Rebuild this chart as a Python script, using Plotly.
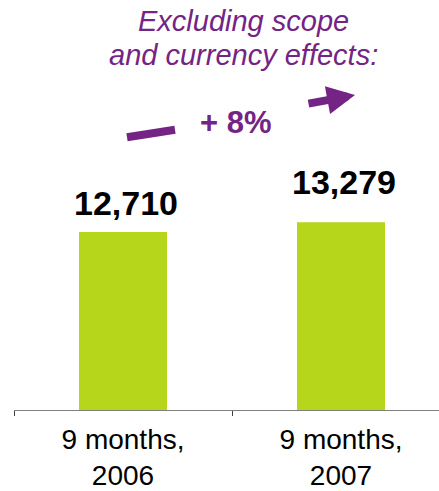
import plotly.graph_objects as go

# Revenue over the first nine months of each year
categories = ["9 months,<br>2006", "9 months,<br>2007"]
revenue = [12710, 13279]
growth_label = "+ 8%"
note_lines = ["Excluding scope", "and currency effects:"]

# Layout geometry (pixels)
W, H = 439, 491
ML, MR, MT, MB = 14, 0, 90, 79
PLOT_W = W - ML - MR
PLOT_H = H - MT - MB
CAT_PX = 218            # width of one category slot
Y_MIN = 2500
Y_PER_PX = 57.04

PURPLE = "#742484"
GREEN = "#b6d61b"
FONT = "Arial, Liberation Sans, sans-serif"


def paper_x(px):
    return (px - ML) / PLOT_W


def paper_y(py):
    return (H - MB - py) / PLOT_H


fig = go.Figure(
    go.Bar(
        x=categories,
        y=revenue,
        marker=dict(color=GREEN, line=dict(width=0)),
        hoverinfo="skip",
    )
)

# Value labels above the bars
label_lift = [29, 40]
for cat, val, lift in zip(categories, revenue, label_lift):
    fig.add_annotation(
        x=cat, y=val, text=f"<b>{val:,}</b>", showarrow=False,
        xanchor="center", yanchor="middle", xshift=3, yshift=lift,
        font=dict(family=FONT, size=34, color="black"),
    )

# Heading note
for line, cy in zip(note_lines, [21, 55]):
    fig.add_annotation(
        xref="paper", yref="paper", x=paper_x(244), y=paper_y(cy),
        text=f"<i>{line}</i>", showarrow=False,
        xanchor="center", yanchor="middle",
        font=dict(family=FONT, size=29, color=PURPLE),
    )

# Growth figure
fig.add_annotation(
    xref="paper", yref="paper", x=paper_x(236), y=paper_y(123),
    text=f"<b>{growth_label}</b>", showarrow=False,
    xanchor="center", yanchor="middle",
    font=dict(family=FONT, size=31, color=PURPLE),
)

# Trend arrow: plain tail segment, then the arrow with its head
fig.add_shape(
    type="line", xref="paper", yref="paper",
    x0=paper_x(127), y0=paper_y(137.5), x1=paper_x(175), y1=paper_y(130),
    line=dict(color=PURPLE, width=8),
)
fig.add_annotation(
    xref="paper", yref="paper", x=paper_x(355), y=paper_y(95),
    text="", showarrow=True, axref="pixel", ayref="pixel",
    ax=-48, ay=9, arrowhead=2, arrowsize=0.7, arrowwidth=8,
    arrowcolor=PURPLE, standoff=0, startstandoff=0,
)

fig.update_layout(
    width=W, height=H,
    margin=dict(l=ML, r=MR, t=MT, b=MB, pad=0),
    paper_bgcolor="white", plot_bgcolor="white",
    bargap=1 - 88 / CAT_PX,
    showlegend=False,
    xaxis=dict(
        type="category",
        range=[-0.5, -0.5 + PLOT_W / CAT_PX],
        showline=True, linecolor="#808080", linewidth=1,
        ticks="outside", tickson="boundaries", ticklen=5,
        tickcolor="#404040", tickwidth=1,
        tickfont=dict(family=FONT, size=28, color="black"),
        ticklabelstandoff=4,
        showgrid=False, zeroline=False, fixedrange=True,
    ),
    yaxis=dict(
        range=[Y_MIN, Y_MIN + PLOT_H * Y_PER_PX],
        visible=False, showgrid=False, zeroline=False, fixedrange=True,
    ),
)

fig.write_html("out.html", config={"displayModeBar": False})
